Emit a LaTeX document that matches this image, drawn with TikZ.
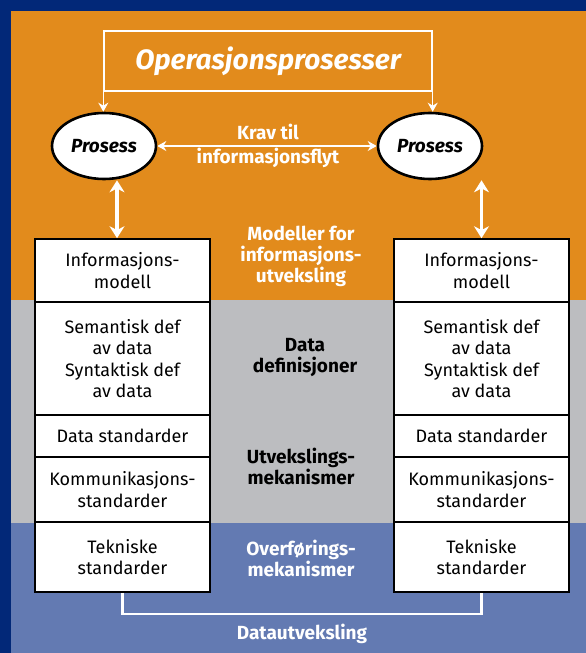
\documentclass[tikz,border=0pt]{standalone}
\usepackage{fontspec}
\setmainfont{Fira Sans}
\usetikzlibrary{arrows.meta, shapes.geometric}
\definecolor{rammeblaa}{RGB}{2,40,120}
\definecolor{oransje}{RGB}{226,139,28}
\definecolor{graa}{RGB}{188,189,192}
\definecolor{blaa}{RGB}{99,122,178}
\tikzset{
    lag/.style={draw=black, line width=1.6pt, fill=white, minimum width=175pt, inner sep=0pt,
        align=center, font=\fontsize{18}{21.5}\selectfont}, % en rad i stabelen
    prosess/.style={ellipse, draw=black, line width=2.6pt, fill=white, minimum width=104pt,
        minimum height=66pt, inner sep=0pt, font=\bfseries\itshape\fontsize{19}{22}\selectfont}, % ellipsene
    tynnpil/.style={white, line width=1.4pt, -{Stealth[length=9pt, width=10pt]}}, % tynne piler
    tykkpil/.style={white, line width=3.6pt, {Stealth[length=12pt, width=15pt]}-{Stealth[length=12pt, width=15pt]}}, % tykke piler
    etikett/.style={align=center, font=\bfseries\fontsize{19}{21}\selectfont} % tekst i midten
}

\begin{document}
\begin{tikzpicture}[x=1pt, y=-1pt]
    \useasboundingbox (0,0) rectangle (586,653);

    % bakgrunn med tre felt
    \fill[rammeblaa] (0,0) rectangle (586,653);
    \fill[oransje] (11,11) rectangle (586,300);
    \fill[graa] (11,300) rectangle (586,523);
    \fill[blaa] (11,523) rectangle (586,653);

    \node[draw=white, line width=1.4pt, minimum width=328pt, minimum height=60pt, text=white,
        font=\bfseries\itshape\fontsize{28}{32}\selectfont] (ops) at (268,61) {Operasjonsprosesser};

    \node[prosess] (pl) at (104,146) {Prosess};
    \node[prosess] (pr) at (430,146) {Prosess};

    \draw[tynnpil] (ops.south west) -- (ops.south west |- pl.north);
    \draw[tynnpil] (ops.south east) -- (ops.south east |- pr.north);
    \draw[tynnpil, {Stealth[length=9pt, width=10pt]}-{Stealth[length=9pt, width=10pt]}] (pl.east) -- (pr.west);

    \node[etikett, text=white] (krav) at (268,132) {Krav til};
    \node[etikett, text=white] (flyt) at (268,158) {informasjonsflyt};

    % de to stablene
    \foreach \s/\xc in {l/122.5, r/481.5} {
        \node[lag, minimum height=63pt] (\s1) at (\xc,270.5) {Informasjons-\\modell};
        \node[lag, minimum height=113pt] (\s2) at (\xc,358.5) {Semantisk def\\av data\\Syntaktisk def\\av data};
        \node[lag, minimum height=42pt] (\s3) at (\xc,436) {Data standarder};
        \node[lag, minimum height=65pt] (\s4) at (\xc,489.5) {Kommunikasjons-\\standarder};
        \node[lag, minimum height=70pt] (\s5) at (\xc,557) {Tekniske\\standarder};
    }

    \draw[tykkpil] (l1.north -| 117,0) -- (pl.south -| 117,0);
    \draw[tykkpil] (r1.north) -- (pr.south -| r1.north);

    \node[etikett, text=white] (modeller) at (301,256) {Modeller for\\informasjons-\\utveksling};
    \node[etikett] (datadef) at (305,358) {Data\\definisjoner};
    \node[etikett] (utveks) at (301,466) {Utvekslings-\\mekanismer};
    \node[etikett, text=white] (overf) at (301,558) {Overførings-\\mekanismer};

    % dataveksling under stablene
    \draw[white, line width=2.4pt] (l5.south) -- ++(0,21) -| (r5.south);
    \node[etikett, text=white] (datautv) at (302,634) {Datautveksling};
\end{tikzpicture}
\end{document}
